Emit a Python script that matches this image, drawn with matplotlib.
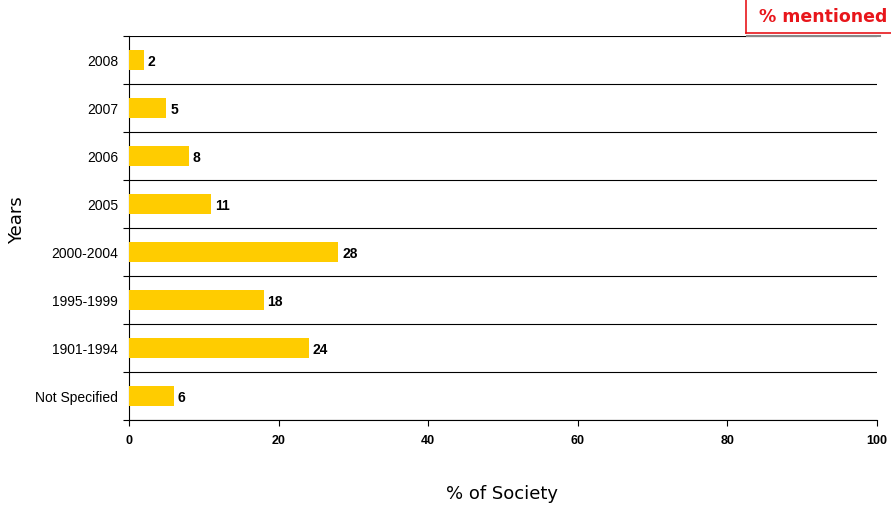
import matplotlib
matplotlib.use("Agg")
import matplotlib.pyplot as plt
from matplotlib.lines import Line2D

categories = ["2008", "2007", "2006", "2005", "2000-2004", "1995-1999", "1901-1994", "Not Specified"]
values = [2, 5, 8, 11, 28, 18, 24, 6]
xticks = [0, 20, 40, 60, 80, 100]

fig = plt.figure(figsize=(8.91, 5.06), dpi=100)
ax = fig.add_axes([129 / 891, 1 - 421 / 506, 748 / 891, 384 / 506])

n = len(categories)
ypos = list(range(n))
ax.barh(ypos, values, height=0.42, color="#FFCC00", zorder=3)
for y, v in zip(ypos, values):
    ax.text(v + 0.5, y + 0.02, f"{v}", va="center", ha="left", fontsize=10,
            fontweight="bold", color="black", family="Liberation Sans")

ax.set_xlim(0, 100)
ax.set_ylim(n - 0.5, -0.5)

# separators between categories
for b in [i - 0.5 for i in range(n + 1)]:
    ax.axhline(b, color="black", lw=0.8, zorder=2)

ax.set_yticks(ypos)
ax.set_yticklabels(categories, fontsize=10, family="Liberation Sans")
ax.set_yticks([i - 0.5 for i in range(n + 1)], minor=True)
ax.tick_params(axis="y", which="major", length=0, pad=8)
ax.tick_params(axis="y", which="minor", length=4, width=0.8, direction="out")

ax.set_xticks(xticks)
ax.set_xticklabels([str(t) for t in xticks], fontsize=9, fontweight="bold",
                   family="Liberation Sans")
ax.tick_params(axis="x", length=4, width=0.8, direction="out", pad=6)

for side in ["top", "right"]:
    ax.spines[side].set_visible(False)
ax.spines["left"].set_linewidth(0.8)
ax.spines["bottom"].set_linewidth(0.8)

fig.text(17 / 891, 1 - 220 / 506, "Years", rotation=90, ha="center", va="center",
         fontsize=13, family="DejaVu Sans")
fig.text(502 / 891, 1 - 494 / 506, "% of Society", ha="center", va="center",
         fontsize=13, family="DejaVu Sans")

# "% mentioned" tag in the upper right corner
fig.add_artist(Line2D([746 / 891, 746 / 891], [1.0, 1 - 34 / 506],
                      transform=fig.transFigure, color="#E8161B", lw=1.2))
fig.add_artist(Line2D([746 / 891, 1.0], [1 - 34 / 506, 1 - 34 / 506],
                      transform=fig.transFigure, color="#E8161B", lw=1.2))
fig.add_artist(Line2D([747 / 891, 880 / 891], [1 - 36.5 / 506, 1 - 36.5 / 506],
                      transform=fig.transFigure, color="#888888", lw=1.5))
fig.text(823 / 891, 1 - 17 / 506, "% mentioned", ha="center", va="center",
         fontsize=12.5, fontweight="bold", color="#E8161B", family="DejaVu Sans")

fig.savefig("out.png", dpi=100)
